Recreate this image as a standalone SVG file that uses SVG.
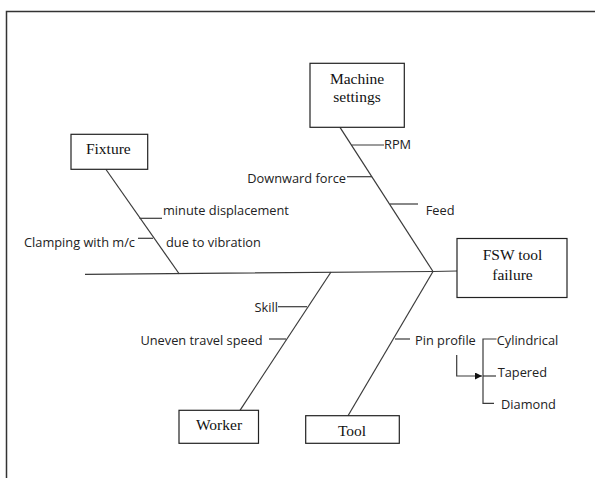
<svg xmlns="http://www.w3.org/2000/svg" width="595" height="478" viewBox="0 0 595 478">
<defs>
<style>
.ln{stroke:#3a3a3a;stroke-width:1.2;fill:none}
.box{fill:#fff;stroke:#222;stroke-width:1.2}
.bt{font-family:"Liberation Serif","Times New Roman",serif;font-size:15.5px;fill:#111;text-anchor:middle}
.lb{font-family:"Open Sans","DejaVu Sans",sans-serif;font-size:12.8px;fill:#222}
</style>
<marker id="ah" viewBox="0 0 10 10" refX="10" refY="5" markerWidth="7" markerHeight="7" orient="auto" markerUnits="userSpaceOnUse">
<path d="M0,0 L10,5 L0,10 z" fill="#111"/>
</marker>
</defs>
<rect width="595" height="478" fill="#fff"/>
<path d="M6.5,478 V11.5 H595" stroke="#333" stroke-width="1.5" fill="none"/>
<g id="connectors">
<path class="ln" d="M85,274.3 L433,271.5 L457,271"/>
<path class="ln" d="M340,127.3 L433,271.5"/>
<path class="ln" d="M106,169.5 L179.3,274"/>
<path class="ln" d="M331,272 L240,410.3"/>
<path class="ln" d="M433,271.5 L348,415.7"/>
<path class="ln" d="M351.5,145 H384"/>
<path class="ln" d="M347,176.7 H372"/>
<path class="ln" d="M390,204 H418"/>
<path class="ln" d="M139.5,218.3 H162"/>
<path class="ln" d="M138,238.3 H153"/>
<path class="ln" d="M278,306.7 H307"/>
<path class="ln" d="M269,339 H286"/>
<path class="ln" d="M395,339 H410"/>
<path class="ln" d="M496.5,339 H483 V403.3 H494"/>
<path class="ln" d="M483,376 H496"/>
<path class="ln" d="M456.7,355 V376 H482" marker-end="url(#ah)"/>
</g>
<g id="machine-settings">
<rect class="box" x="310" y="63.3" width="94.3" height="64"/>
<text class="bt" x="357" y="84">Machine</text>
<text class="bt" x="357" y="101.5">settings</text>
</g>
<g id="fixture">
<rect class="box" x="71" y="134.3" width="76.7" height="35"/>
<text class="bt" x="108.3" y="154">Fixture</text>
</g>
<g id="fsw-tool-failure">
<rect class="box" x="457" y="238.5" width="110" height="59"/>
<text class="bt" x="512.5" y="260">FSW tool</text>
<text class="bt" x="512.5" y="280">failure</text>
</g>
<g id="worker">
<rect class="box" x="179" y="410.3" width="79.5" height="33"/>
<text class="bt" x="219" y="430">Worker</text>
</g>
<g id="tool">
<rect class="box" x="305.7" y="415.7" width="93.6" height="27.6"/>
<text class="bt" x="352" y="436">Tool</text>
</g>
<g id="labels">
<text class="lb" x="384" y="149.3">RPM</text>
<text class="lb" x="346" y="182.5" text-anchor="end">Downward force</text>
<text class="lb" x="425.7" y="215">Feed</text>
<text class="lb" x="163" y="215">minute displacement</text>
<text class="lb" x="135" y="247" text-anchor="end">Clamping with m/c</text>
<text class="lb" x="166" y="247">due to vibration</text>
<text class="lb" x="278" y="312" text-anchor="end">Skill</text>
<text class="lb" x="262.7" y="345" text-anchor="end">Uneven travel speed</text>
<text class="lb" x="415" y="345">Pin profile</text>
<text class="lb" x="496.7" y="345">Cylindrical</text>
<text class="lb" x="497.7" y="377">Tapered</text>
<text class="lb" x="501" y="409">Diamond</text>
</g>
</svg>
